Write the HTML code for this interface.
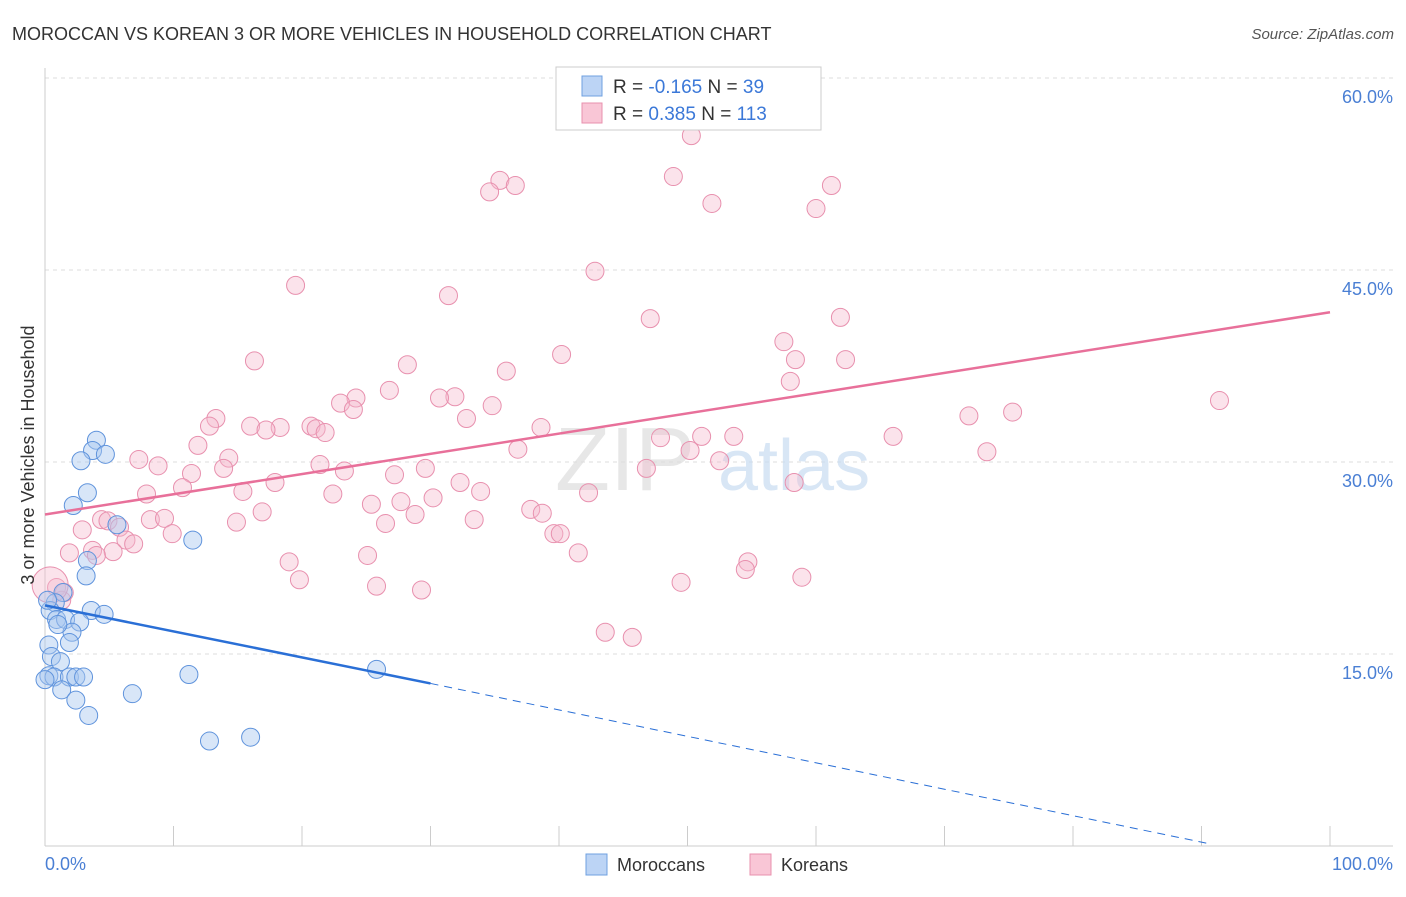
<!DOCTYPE html>
<html><head><meta charset="utf-8"><style>
body{margin:0;background:#fff;font-family:"Liberation Sans",sans-serif;}
svg text{font-family:"Liberation Sans",sans-serif;}
</style></head><body>
<svg id="chart" width="1406" height="892" xmlns="http://www.w3.org/2000/svg">
<text x="12" y="40" font-size="18" fill="#333">MOROCCAN VS KOREAN 3 OR MORE VEHICLES IN HOUSEHOLD CORRELATION CHART</text>
<text x="1394" y="39" font-size="15" fill="#555" font-style="italic" text-anchor="end">Source: ZipAtlas.com</text>
<g id="grid"></g>
<text x="555" y="490" font-size="90" fill="#ddd" font-family="Liberation Serif" opacity="0.7">ZIP</text>
<text x="718" y="490" font-size="72" fill="#c8dcf2" opacity="0.7">atlas</text>
<g id="points"></g>
<g id="trends"></g>
<text transform="translate(34,455) rotate(-90)" font-size="18" fill="#333" text-anchor="middle">3 or more Vehicles in Household</text>
<text x="45" y="870" font-size="18" fill="#4a7fd4">0.0%</text>
<text x="1393" y="870" font-size="18" fill="#4a7fd4" text-anchor="end">100.0%</text>
<g>
<rect x="556" y="67" width="265" height="63" fill="#fff" stroke="#ccc"/>
<rect x="582" y="76" width="20" height="20" fill="#bcd4f5" stroke="#6fa0e0"/>
<rect x="582" y="103" width="20" height="20" fill="#f9c6d6" stroke="#e890ae"/>
<text x="613" y="93" font-size="19" fill="#333">R = <tspan fill="#3b78d8">-0.165</tspan>   N = <tspan fill="#3b78d8"> 39</tspan></text>
<text x="613" y="120" font-size="19" fill="#333">R = <tspan fill="#3b78d8"> 0.385</tspan>   N = <tspan fill="#3b78d8">113</tspan></text>
</g>
<g>
<rect x="586" y="854" width="21" height="21" fill="#bcd4f5" stroke="#6fa0e0"/>
<text x="617" y="871" font-size="18" fill="#333">Moroccans</text>
<rect x="750" y="854" width="21" height="21" fill="#f9c6d6" stroke="#e890ae"/>
<text x="781" y="871" font-size="18" fill="#333">Koreans</text>
</g>
</svg>
<script>
const yTicks=[15,30,45,60];
const yTickLabels=["15.0%","30.0%","45.0%","60.0%"];
const xTicks=[0,10,20,30,40,50,60,70,80,90,100];
const blueX=[4.0,3.7,4.7,2.8,3.3,2.2,5.6,3.3,3.2,11.5,1.4,0.8,0.4,3.6,4.6,0.9,1.6,2.7,2.1,1.9,0.3,0.5,1.2,0.3,0.7,1.9,2.4,3.0,1.3,2.4,3.4,6.8,11.2,25.8,12.8,16.0,0.2,1.0,0.0];
const blueY=[31.7,30.9,30.6,30.1,27.6,26.6,25.1,22.3,21.1,23.9,19.8,19.0,18.4,18.4,18.1,17.7,17.7,17.5,16.7,15.9,15.7,14.8,14.4,13.3,13.2,13.2,13.2,13.2,12.2,11.4,10.2,11.9,13.4,13.8,8.2,8.5,19.2,17.3,13.0];
const pinkX=[50.3,35.4,36.6,34.6,48.9,61.2,51.9,60.0,42.8,19.5,31.4,47.1,61.9,57.5,40.2,16.3,58.4,62.3,28.2,35.9,58.0,26.8,24.2,23.0,31.9,30.7,24.0,34.8,13.3,12.8,16.0,18.3,17.2,20.7,21.1,21.8,32.8,38.6,71.9,75.3,91.4,66.0,53.6,47.9,51.1,50.2,36.8,11.9,14.3,7.3,8.8,21.4,23.3,29.6,73.3,52.5,46.8,11.4,13.9,17.9,27.2,32.3,33.9,30.2,10.7,7.9,15.4,22.4,42.3,58.3,25.4,27.7,28.8,37.8,38.7,16.9,8.2,9.3,4.4,4.9,5.8,14.9,33.4,26.5,2.9,9.9,6.3,6.9,39.6,40.1,3.7,1.9,5.3,4.0,41.5,25.1,19.0,54.7,54.5,58.9,49.5,19.8,25.8,29.3,0.9,1.3,43.6,45.7,1.5,0.4];
const pinkY=[55.5,52.0,51.6,51.1,52.3,51.6,50.2,49.8,44.9,43.8,43.0,41.2,41.3,39.4,38.4,37.9,38.0,38.0,37.6,37.1,36.3,35.6,35.0,34.6,35.1,35.0,34.1,34.4,33.4,32.8,32.8,32.7,32.5,32.8,32.6,32.3,33.4,32.7,33.6,33.9,34.8,32.0,32.0,31.9,32.0,30.9,31.0,31.3,30.3,30.2,29.7,29.8,29.3,29.5,30.8,30.1,29.5,29.1,29.5,28.4,29.0,28.4,27.7,27.2,28.0,27.5,27.7,27.5,27.6,28.4,26.7,26.9,25.9,26.3,26.0,26.1,25.5,25.6,25.5,25.4,24.9,25.3,25.5,25.2,24.7,24.4,23.9,23.6,24.4,24.4,23.1,22.9,23.0,22.7,22.9,22.7,22.2,22.2,21.6,21.0,20.6,20.8,20.3,20.0,20.2,19.2,16.7,16.3,19.8,20.4];
const blueTrend=[[0,18.8],[30,12.7]];
const blueTrendDash=[[30,12.7],[90.5,0.2]];
const pinkTrend=[[0,25.9],[100,41.7]];
const NS="http://www.w3.org/2000/svg";
const xs=v=>45+v*12.85, ys=v=>846-v*12.8;
function mk(t,a,p){const e=document.createElementNS(NS,t);for(const k in a)e.setAttribute(k,a[k]);p.appendChild(e);return e;}
const grid=document.getElementById('grid');
yTicks.forEach((t,i)=>{
 const l=mk('line',{x1:45,x2:1393,y1:ys(t),y2:ys(t),stroke:'#ddd','stroke-dasharray':'4,4'},grid);
 
 
 const tx=mk('text',{x:1393,y:ys(t)+25,'font-size':18,fill:'#4a7fd4','text-anchor':'end'},grid);
 tx.textContent=yTickLabels[i];
 
 
});
const ax=mk('line',{x1:45,x2:1393,y1:846,y2:846,stroke:'#ccc'},grid);


const yx=mk('line',{x1:45,x2:45,y1:68,y2:846,stroke:'#ccc'},grid);


xTicks.forEach(t=>{
 const l=mk('line',{x1:xs(t),x2:xs(t),y1:826,y2:846,stroke:'#ccc'},grid);
 
 
});
const pts=document.getElementById('points');
pinkX.forEach((v,i)=>{
 const c=mk('circle',{cx:xs(v),cy:ys(pinkY[i]),r:i==pinkX.length-1?18:9,fill:'#f5b8cc','fill-opacity':0.4,stroke:'#e890ae','stroke-width':1},pts);
 
 
});
blueX.forEach((v,i)=>{
 const c=mk('circle',{cx:xs(v),cy:ys(blueY[i]),r:9,fill:'#a9c8f0','fill-opacity':0.45,stroke:'#5f93dc','stroke-width':1},pts);
 
 
});
const tr=document.getElementById('trends');
const p1=mk('line',{x1:xs(pinkTrend[0][0]),y1:ys(pinkTrend[0][1]),x2:xs(pinkTrend[1][0]),y2:ys(pinkTrend[1][1]),stroke:'#e8709a','stroke-width':2.5},tr);


const b1=mk('line',{x1:xs(blueTrend[0][0]),y1:ys(blueTrend[0][1]),x2:xs(blueTrend[1][0]),y2:ys(blueTrend[1][1]),stroke:'#2a6fd6','stroke-width':2.5},tr);


const b2=mk('line',{x1:xs(blueTrendDash[0][0]),y1:ys(blueTrendDash[0][1]),x2:xs(blueTrendDash[1][0]),y2:ys(blueTrendDash[1][1]),stroke:'#2a6fd6','stroke-width':1,'stroke-dasharray':'8,6'},tr);


</script>
</body></html>
